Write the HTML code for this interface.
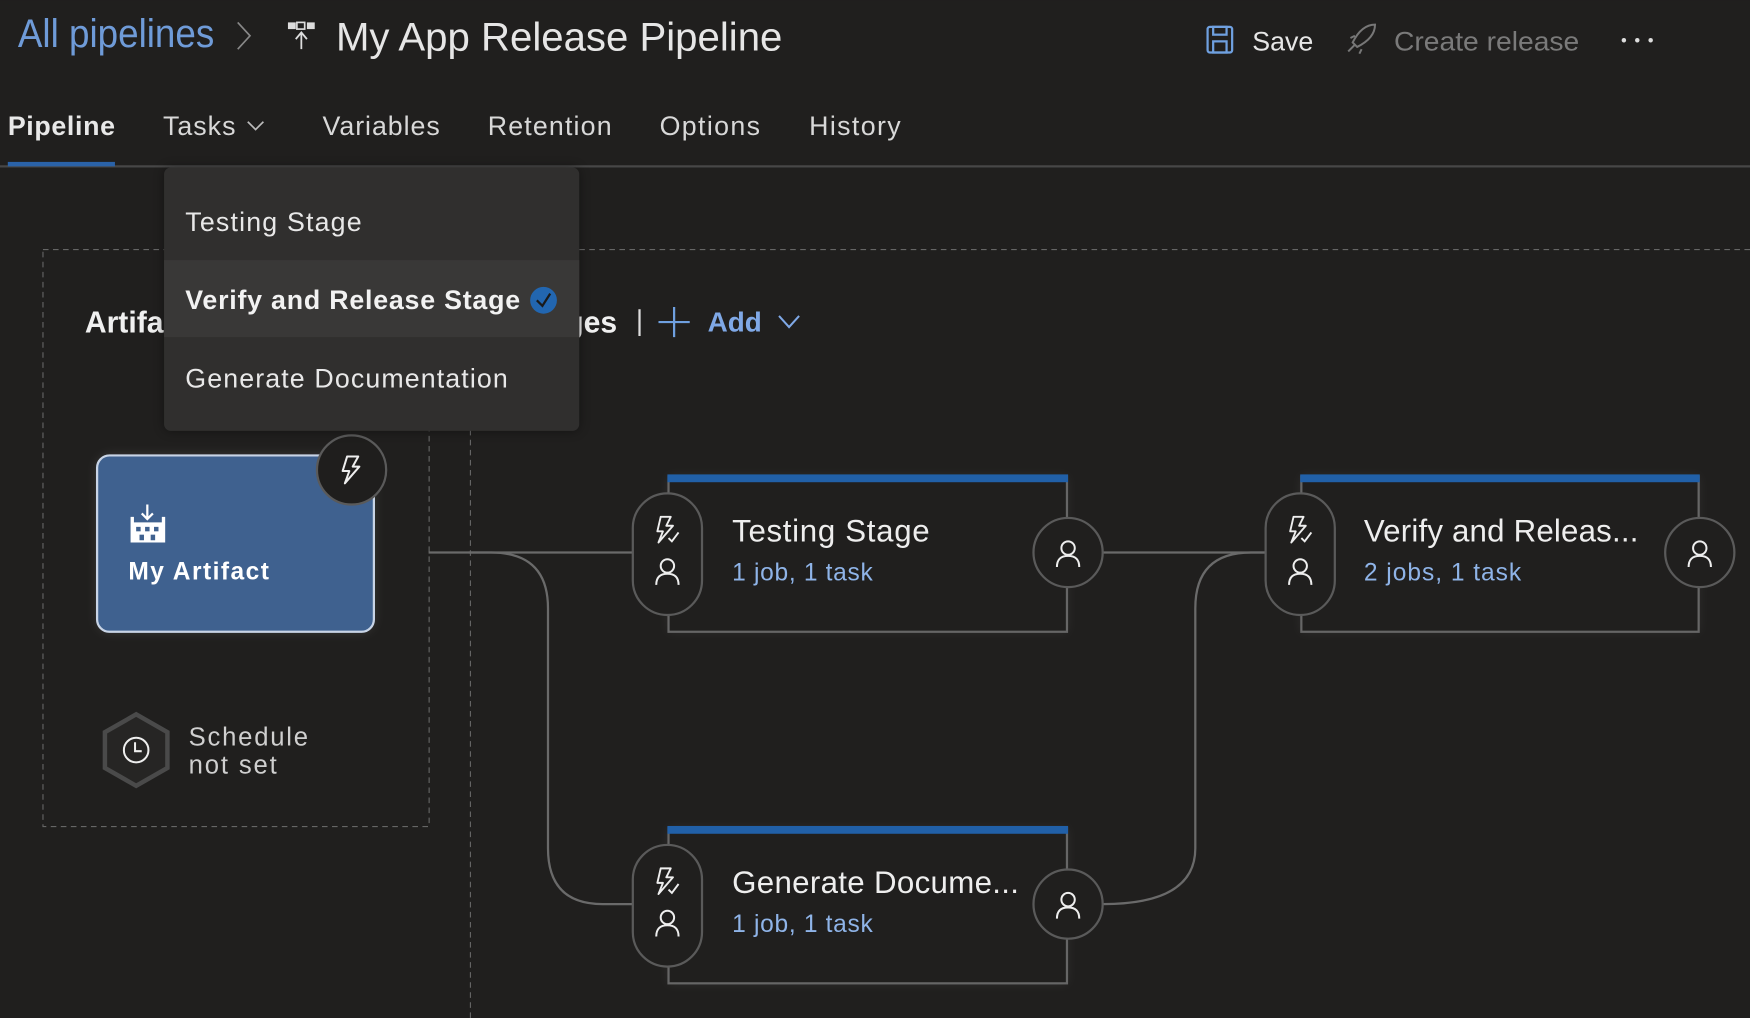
<!DOCTYPE html>
<html><head><meta charset="utf-8"><style>
html,body{margin:0;padding:0;background:#201f1e;overflow:hidden}
svg{display:block}
text{font-family:"Liberation Sans",sans-serif}
</style></head><body>
<svg width="1750" height="1018" viewBox="0 0 1568 912" xmlns="http://www.w3.org/2000/svg">
<defs>
<filter id="glow" x="-20%" y="-20%" width="140%" height="140%"><feGaussianBlur stdDeviation="5"/></filter>
<g id="bolt"><path d="M-4,-12 L6,-12 L1,-3 L7,-3 L-6,12 L-2,1 L-8,1 Z" fill="none" stroke="#eee" stroke-width="1.8" stroke-linejoin="round"/></g>
<g id="boltc"><path d="M-6,-12 L3,-12 L-1,-4 L5,-4 L-8,11 L-4,1 L-9,1 Z" fill="none" stroke="#eee" stroke-width="1.7" stroke-linejoin="round"/><path d="M1,7 L4,10 L10,2" fill="none" stroke="#eee" stroke-width="1.7"/></g>
<g id="person"><circle cx="0" cy="-5" r="6" fill="none" stroke="#eee" stroke-width="1.8"/><path d="M-10,12 Q-10,2 0,2 Q10,2 10,12" fill="none" stroke="#eee" stroke-width="1.8"/></g>
</defs>
<rect width="1568" height="912" fill="#201f1e"/>

<!-- header -->
<text x="16" y="42" font-size="36" fill="#6f9bd8" font-weight="300" textLength="176" lengthAdjust="spacingAndGlyphs">All pipelines</text>
<path d="M213,20 L224,32 L213,44" fill="none" stroke="#888" stroke-width="1.5"/>
<rect x="258" y="20" width="7" height="6" fill="#ddd"/><rect x="266" y="20" width="7" height="6" fill="none" stroke="#ddd" stroke-width="1.5"/><rect x="275" y="20" width="7" height="6" fill="#ddd"/>
<path d="M270,44 V30 M265,35 L270,29 L275,35" fill="none" stroke="#ddd" stroke-width="1.6"/>
<text x="301" y="45" font-size="36" fill="#e6e6e6" textLength="400" lengthAdjust="spacingAndGlyphs">My App Release Pipeline</text>
<rect x="1082" y="24" width="22" height="23" rx="2" fill="none" stroke="#6fa0e0" stroke-width="2"/>
<rect x="1087" y="24" width="12" height="7" fill="none" stroke="#6fa0e0" stroke-width="2"/>
<rect x="1087" y="37" width="12" height="10" fill="none" stroke="#6fa0e0" stroke-width="2"/>
<text x="1122" y="45" font-size="24" fill="#e6e6e6">Save</text>
<path d="M1208,46 L1214,40 M1212,38 Q1220,22 1232,22 Q1232,34 1216,42 Z M1210,34 L1214,32 M1220,44 L1218,48" fill="none" stroke="#777" stroke-width="1.8"/>
<text x="1249" y="45" font-size="24" fill="#7a7a7a" textLength="166" lengthAdjust="spacingAndGlyphs">Create release</text>
<circle cx="1455" cy="36" r="2" fill="#ddd"/><circle cx="1467" cy="36" r="2" fill="#ddd"/><circle cx="1479" cy="36" r="2" fill="#ddd"/>

<!-- tabs -->
<text x="7" y="121" font-size="24" font-weight="bold" fill="#e8e8e8" textLength="96">Pipeline</text>
<text x="146" y="121" font-size="24" fill="#d8d8d8" textLength="65">Tasks</text>
<path d="M222,109 L229,116 L236,109" fill="none" stroke="#bbb" stroke-width="1.5"/>
<text x="289" y="121" font-size="24" fill="#d8d8d8" textLength="105">Variables</text>
<text x="437" y="121" font-size="24" fill="#d8d8d8" textLength="111">Retention</text>
<text x="591" y="121" font-size="24" fill="#d8d8d8" textLength="90">Options</text>
<text x="725" y="121" font-size="24" fill="#d8d8d8" textLength="82">History</text>
<rect x="0" y="148" width="1568" height="2" fill="#474747"/>
<rect x="7" y="145" width="96" height="4" fill="#2a62a8"/>

<!-- dashed regions -->
<rect x="38.5" y="223.5" width="346" height="517" fill="none" stroke="#666" stroke-dasharray="5,4"/>
<line x1="384" y1="223.5" x2="1568" y2="223.5" stroke="#666" stroke-dasharray="5,4"/>
<line x1="421.5" y1="385" x2="421.5" y2="912" stroke="#666" stroke-dasharray="5,4"/>

<text x="76" y="298" font-size="27" font-weight="bold" fill="#f0f0f0">Artifacts</text>
<text x="553" y="298" font-size="27" font-weight="bold" fill="#f0f0f0" text-anchor="end">Stages</text>
<rect x="572" y="277" width="2" height="24" fill="#ddd"/>
<path d="M604,275 V302 M590,288.5 H618" stroke="#6fa0e0" stroke-width="2"/>
<text x="634" y="297" font-size="25" font-weight="bold" fill="#7fa8e6">Add</text>
<path d="M698,283 L707,293 L716,283" fill="none" stroke="#7fa8e6" stroke-width="1.8"/>

<!-- connectors -->
<g fill="none" stroke="#6a6a6a" stroke-width="2">
<path d="M384,495 H567"/>
<path d="M420,495 H440 Q491,495 491,545 V760 Q491,810 540,810 H567"/>
<path d="M988,495 H1133"/>
<path d="M988,810 Q1071,810 1071,760 V545 Q1071,495 1121,495 H1133"/>
</g>

<!-- artifact card -->
<rect x="87" y="408" width="248" height="158" rx="12" fill="#fff" opacity="0.12" filter="url(#glow)"/>
<rect x="87" y="408" width="248" height="158" rx="11" fill="#3f618f" stroke="#c8d4e6" stroke-width="2"/>
<path d="M132,452 V465 M127,460 L132,465 L137,460" fill="none" stroke="#fff" stroke-width="2"/>
<path d="M117,463 V486 H148 V463 H145 V468 H120 V463 Z" fill="#fff"/>
<rect x="122" y="472" width="4" height="4" fill="#3f618f"/><rect x="130" y="472" width="4" height="4" fill="#3f618f"/><rect x="138" y="472" width="4" height="4" fill="#3f618f"/>
<rect x="125" y="479" width="4" height="5" fill="#3f618f"/><rect x="135" y="479" width="4" height="5" fill="#3f618f"/>
<text x="115" y="519" font-size="22" font-weight="bold" fill="#fff" textLength="126">My Artifact</text>
<circle cx="315" cy="421" r="31" fill="#1f1e1d" stroke="#5a5a5a" stroke-width="2"/>
<use href="#bolt" x="315" y="421"/>

<!-- schedule -->
<path d="M122,640 L150,656 L150,688 L122,704 L94,688 L94,656 Z" fill="#262524" stroke="#4a4a4a" stroke-width="4"/>
<circle cx="122" cy="672" r="11" fill="none" stroke="#eee" stroke-width="1.8"/>
<path d="M121,665 V673 H127" fill="none" stroke="#eee" stroke-width="1.8"/>
<text x="169" y="668" font-size="23" fill="#cfcfcf" textLength="107">Schedule</text>
<text x="169" y="693" font-size="23" fill="#cfcfcf" textLength="79">not set</text>

<!-- stages -->
<g>
<rect x="599" y="427" width="357" height="139" fill="#fff" opacity="0.07" filter="url(#glow)"/>
<rect x="599" y="427" width="357" height="139" fill="#201f1e" stroke="#666" stroke-width="2"/>
<rect x="598" y="425" width="359" height="7" fill="#2160a8"/>
<rect x="567" y="442" width="62" height="109" rx="31" fill="#201f1e" stroke="#5a5a5a" stroke-width="2"/>
<use href="#boltc" x="598" y="475"/><use href="#person" x="598" y="512"/>
<circle cx="957" cy="495" r="31" fill="#201f1e" stroke="#5a5a5a" stroke-width="2"/>
<use href="#person" x="957" y="496"/>
<text x="656" y="485" font-size="28" fill="#eee" textLength="177">Testing Stage</text>
<text x="656" y="520" font-size="22" fill="#8fb4e8" textLength="126">1 job, 1 task</text>
</g>
<g>
<rect x="1166" y="427" width="356" height="139" fill="#fff" opacity="0.07" filter="url(#glow)"/>
<rect x="1166" y="427" width="356" height="139" fill="#201f1e" stroke="#666" stroke-width="2"/>
<rect x="1165" y="425" width="358" height="7" fill="#2160a8"/>
<rect x="1134" y="442" width="62" height="109" rx="31" fill="#201f1e" stroke="#5a5a5a" stroke-width="2"/>
<use href="#boltc" x="1165" y="475"/><use href="#person" x="1165" y="512"/>
<circle cx="1523" cy="495" r="31" fill="#201f1e" stroke="#5a5a5a" stroke-width="2"/>
<use href="#person" x="1523" y="496"/>
<text x="1222" y="485" font-size="28" fill="#eee" textLength="246">Verify and Releas...</text>
<text x="1222" y="520" font-size="22" fill="#8fb4e8" textLength="141">2 jobs, 1 task</text>
</g>
<g>
<rect x="599" y="742" width="357" height="139" fill="#fff" opacity="0.07" filter="url(#glow)"/>
<rect x="599" y="742" width="357" height="139" fill="#201f1e" stroke="#666" stroke-width="2"/>
<rect x="598" y="740" width="359" height="7" fill="#2160a8"/>
<rect x="567" y="757" width="62" height="109" rx="31" fill="#201f1e" stroke="#5a5a5a" stroke-width="2"/>
<use href="#boltc" x="598" y="790"/><use href="#person" x="598" y="827"/>
<circle cx="957" cy="810" r="31" fill="#201f1e" stroke="#5a5a5a" stroke-width="2"/>
<use href="#person" x="957" y="811"/>
<text x="656" y="800" font-size="28" fill="#eee" textLength="257">Generate Docume...</text>
<text x="656" y="835" font-size="22" fill="#8fb4e8" textLength="126">1 job, 1 task</text>
</g>

<!-- dropdown -->
<rect x="147" y="150" width="372" height="236" rx="6" fill="#000" opacity="0.4" filter="url(#glow)"/>
<rect x="147" y="150" width="372" height="236" rx="6" fill="#302f2e"/>
<rect x="147" y="233" width="372" height="69" fill="#393837"/>
<text x="166" y="207" font-size="24" fill="#e8e8e8" textLength="158">Testing Stage</text>
<text x="166" y="277" font-size="24" font-weight="bold" fill="#f2f2f2" textLength="300">Verify and Release Stage</text>
<circle cx="487" cy="269" r="12" fill="#2266b0"/>
<path d="M481,269 L486,274 L493,263" fill="none" stroke="#1a1a1a" stroke-width="2"/>
<text x="166" y="347" font-size="24" fill="#e8e8e8" textLength="289">Generate Documentation</text>
</svg>
</body></html>
